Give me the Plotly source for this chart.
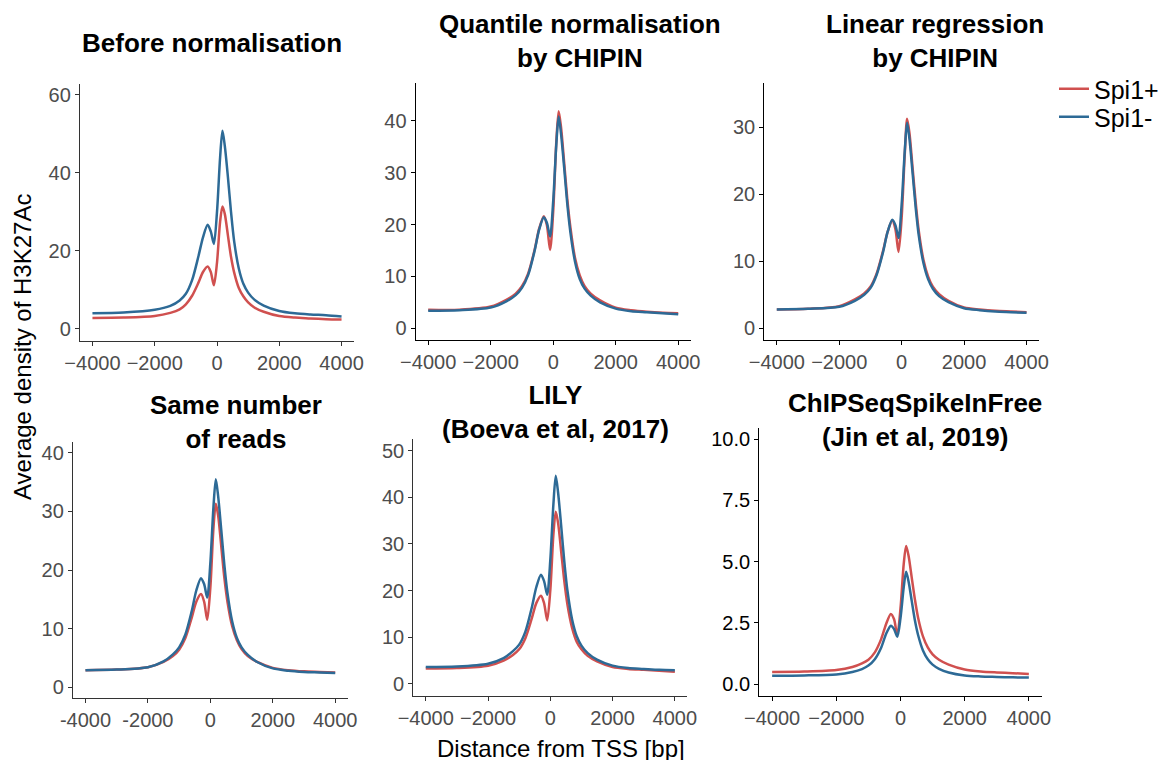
import plotly.graph_objects as go

W, H = 1171, 760
OFF = 8  # page body margin in the browser

positions = [-4000, -3000, -2000, -1500, -1200, -1000, -800, -600, -450, -300, -200, -100, 0, 100, 175,
             250, 350, 450, 550, 700, 850, 1000, 1200, 1500, 2000, 2500, 3000, 3500, 4000]

panel_titles = ["Before normalisation",
                "Quantile normalisation<br>by CHIPIN",
                "Linear regression<br>by CHIPIN",
                "Same number<br>of reads",
                "LILY<br>(Boeva et al, 2017)",
                "ChIPSeqSpikeInFree<br>(Jin et al, 2019)"]

series_names = ["Spi1+", "Spi1-"]

before_plus = [2.8, 2.9, 3.3, 4.1, 5.0, 6.3, 8.5, 11.8, 14.6, 16.0, 14.6, 11.2, 17.0, 27.5, 31.4,
               29.5, 24.0, 18.5, 14.5, 10.5, 8.3, 6.8, 5.5, 4.4, 3.3, 2.9, 2.7, 2.5, 2.4]
before_minus = [4.0, 4.2, 4.9, 5.9, 7.3, 9.0, 12.5, 18.5, 23.5, 26.7, 25.0, 21.8, 30.0, 44.0, 50.8,
                47.0, 39.0, 30.0, 22.5, 15.5, 11.5, 9.3, 7.5, 6.0, 4.6, 4.0, 3.7, 3.5, 3.2]

quantile_plus = [3.6, 3.6, 4.2, 5.5, 6.7, 8.1, 10.6, 15.0, 19.2, 21.6, 19.8, 15.1, 22.5, 36.0, 41.8,
                 38.8, 32.0, 25.0, 19.5, 13.5, 10.2, 8.2, 6.7, 5.4, 4.0, 3.5, 3.2, 3.0, 2.9]
quantile_minus = [3.4, 3.5, 4.0, 5.2, 6.4, 7.8, 10.3, 14.8, 19.0, 21.4, 20.3, 17.7, 24.5, 35.5, 40.8,
                  37.5, 31.0, 24.0, 18.5, 12.8, 9.5, 7.7, 6.3, 5.0, 3.8, 3.3, 3.1, 2.9, 2.7]

linear_plus = [2.8, 2.9, 3.3, 4.3, 5.2, 6.2, 8.2, 11.5, 14.4, 16.1, 14.8, 11.4, 16.5, 26.0, 31.3,
               29.2, 24.0, 18.8, 14.5, 10.2, 7.7, 6.2, 5.1, 4.1, 3.1, 2.8, 2.6, 2.5, 2.4]
linear_minus = [2.8, 2.9, 3.2, 4.1, 5.0, 6.0, 8.0, 11.3, 14.4, 16.2, 15.4, 13.5, 18.5, 26.5, 30.7,
                28.3, 23.2, 18.0, 13.8, 9.7, 7.3, 5.9, 4.8, 3.9, 3.0, 2.7, 2.5, 2.4, 2.3]

samereads_plus = [2.9, 3.0, 3.4, 4.3, 5.3, 6.4, 8.4, 11.8, 14.6, 15.9, 14.6, 11.5, 17.0, 27.2, 31.3,
                  29.3, 24.0, 18.6, 14.5, 10.4, 8.0, 6.5, 5.3, 4.3, 3.3, 2.9, 2.7, 2.6, 2.5]
samereads_minus = [2.9, 3.0, 3.4, 4.4, 5.6, 6.8, 9.0, 12.9, 16.5, 18.6, 17.6, 15.3, 21.2, 30.8, 35.5,
                   32.6, 26.8, 20.8, 16.0, 11.2, 8.4, 6.8, 5.5, 4.3, 3.2, 2.8, 2.6, 2.5, 2.4]

lily_plus = [3.3, 3.4, 3.9, 5.0, 6.2, 7.4, 9.8, 13.9, 17.3, 18.9, 17.3, 13.6, 20.0, 32.0, 36.9,
             34.5, 28.3, 22.0, 17.0, 12.0, 9.0, 7.4, 6.0, 4.8, 3.6, 3.2, 3.0, 2.8, 2.6]
lily_minus = [3.6, 3.7, 4.3, 5.5, 7.0, 8.4, 11.2, 16.2, 20.7, 23.4, 22.0, 19.1, 26.5, 38.5, 44.6,
              41.0, 33.8, 26.2, 20.0, 13.8, 10.2, 8.2, 6.6, 5.2, 3.9, 3.4, 3.2, 3.0, 2.9]

spikein_plus = [0.50, 0.52, 0.58, 0.70, 0.85, 1.00, 1.30, 1.85, 2.45, 2.87, 2.65, 2.00, 3.10, 4.90, 5.64,
                5.25, 4.35, 3.45, 2.70, 1.95, 1.50, 1.22, 1.00, 0.80, 0.60, 0.52, 0.48, 0.45, 0.42]
spikein_minus = [0.35, 0.36, 0.40, 0.50, 0.62, 0.76, 1.02, 1.50, 2.05, 2.39, 2.25, 1.94, 2.70, 3.95, 4.59,
                 4.20, 3.40, 2.60, 2.00, 1.38, 1.02, 0.80, 0.63, 0.48, 0.36, 0.32, 0.30, 0.28, 0.27]

x_tick_vals = [-4000, -2000, 0, 2000, 4000]
x_tick_text = ["\u22124000", "\u22122000", "0", "2000", "4000"]
x_tick_text_hyphen = ["-4000", "-2000", "0", "2000", "4000"]

panel_data = [(before_plus, before_minus), (quantile_plus, quantile_minus), (linear_plus, linear_minus),
              (samereads_plus, samereads_minus), (lily_plus, lily_minus), (spikein_plus, spikein_minus)]

# screen pixel boxes (left, right, top, bottom) of each panel
boxes = [(80, 354, 84, 341), (415.7, 690.7, 83.3, 340.3), (764.3, 1039, 83.3, 340.3),
         (73, 347.7, 441.7, 698.3), (413.3, 687.3, 439.3, 696), (759.3, 1041.7, 428.3, 696)]
y_ranges = [[-3.1, 62.8], [-2.3, 47.2], [-1.8, 36.6], [-1.9, 41.9], [-2.6, 52.4], [-0.48, 10.44]]
y_ticks = [[0, 20, 40, 60], [0, 10, 20, 30, 40], [0, 10, 20, 30], [0, 10, 20, 30, 40],
           [0, 10, 20, 30, 40, 50], [0, 2.5, 5.0, 7.5, 10.0]]
title_pos = [(211.7, 43), (580, 41), (935, 41), (235.8, 422), (555, 412), (915, 419.5)]

RED = "#D0504F"
BLUE = "#2D6A96"
FONT = "Liberation Sans, Arial, Helvetica, sans-serif"


def px(x):
    return (x - OFF) / W


def py(y):
    return 1 - (y - OFF) / H


fig = go.Figure()
layout = dict(width=W, height=H, margin=dict(l=0, r=0, t=0, b=0, pad=0, autoexpand=False),
              paper_bgcolor="white", plot_bgcolor="white",
              font=dict(family=FONT, color="#4D4D4D"))
annotations = []

for i, ((plus, minus), box) in enumerate(zip(panel_data, boxes)):
    n = "" if i == 0 else str(i + 1)
    l, r, t, b = box
    for vals, name, col, lg in [(plus, series_names[0], RED, "legend"),
                                (minus, series_names[1], BLUE, "legend2")]:
        fig.add_trace(go.Scatter(x=positions, y=vals, mode="lines", name=name,
                                 line=dict(color=col, width=2.5, shape="spline", smoothing=0.8),
                                 xaxis="x" + n, yaxis="y" + n, showlegend=(i == 0),
                                 legend=lg, legendgroup=name))
    axcol = "#333333" if i in (0, 3, 4) else "#000000"
    layout["xaxis" + n] = dict(domain=[px(l), px(r)], range=[-4400, 4400], anchor="y" + n,
                               automargin=False,
                               showgrid=False, zeroline=False, showline=True, linecolor=axcol, linewidth=1.3,
                               ticks="outside", ticklen=4, tickcolor=axcol, tickwidth=1.2,
                               tickvals=x_tick_vals,
                               ticktext=x_tick_text_hyphen if i == 3 else x_tick_text,
                               tickfont=dict(size=20, color="#4D4D4D", family=FONT))
    tickfmt = ".1f" if i == 5 else "d"
    layout["yaxis" + n] = dict(domain=[py(b), py(t)], range=y_ranges[i], anchor="x" + n,
                               automargin=False,
                               showgrid=False, zeroline=False, showline=True, linecolor=axcol, linewidth=1.3,
                               ticks="outside", ticklen=4, tickcolor=axcol, tickwidth=1.2,
                               tickvals=y_ticks[i], tickformat=tickfmt,
                               tickfont=dict(size=20, color="#000000" if i == 5 else "#4D4D4D", family=FONT))
    tx, ty = title_pos[i]
    annotations.append(dict(text="<b>" + panel_titles[i] + "</b>", x=px(tx), y=py(ty),
                            xref="paper", yref="paper", xanchor="center", yanchor="middle",
                            showarrow=False, font=dict(size=26, color="#000000", family=FONT)))

annotations.append(dict(text="Average density of H3K27Ac", x=px(22), y=py(347), textangle=-90,
                        xref="paper", yref="paper", xanchor="center", yanchor="middle",
                        showarrow=False, font=dict(size=24, color="#000000", family=FONT)))
annotations.append(dict(text="Distance from TSS [bp]", x=px(561), y=py(748),
                        xref="paper", yref="paper", xanchor="center", yanchor="middle",
                        showarrow=False, font=dict(size=24, color="#000000", family=FONT)))

layout["annotations"] = annotations
legend_common = dict(x=px(1054), xanchor="left", yanchor="middle",
                     font=dict(size=25, color="#000000", family=FONT),
                     bgcolor="rgba(0,0,0,0)", borderwidth=0, itemwidth=30, tracegroupgap=0)
layout["legend"] = dict(y=py(89), **legend_common)
layout["legend2"] = dict(y=py(117), **legend_common)
layout["showlegend"] = True
fig.update_layout(**layout)
fig.write_html("out.html")
